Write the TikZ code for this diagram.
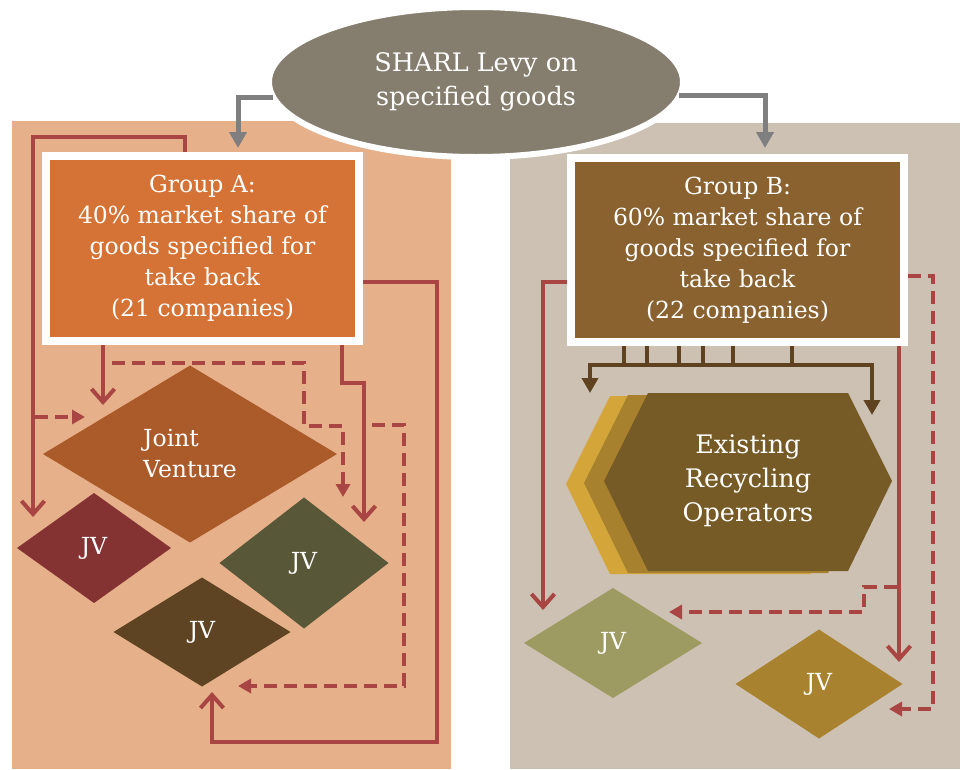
\documentclass[tikz,border=0pt]{standalone}
\usepackage{fontspec}
\setmainfont{DejaVu Serif}
\usetikzlibrary{shapes.geometric,arrows.meta}

\definecolor{peach}{HTML}{E6B08A}
\definecolor{sand}{HTML}{CDC1B3}
\definecolor{levygray}{HTML}{857D6E}
\definecolor{linkgray}{HTML}{7F7F7F}
\definecolor{orangeA}{HTML}{D57336}
\definecolor{brownB}{HTML}{8A6230}
\definecolor{linkred}{HTML}{A94542}
\definecolor{linkbrown}{HTML}{5F4220}
\definecolor{jvrust}{HTML}{AB5A2A}
\definecolor{jvwine}{HTML}{843232}
\definecolor{jvolive}{HTML}{585737}
\definecolor{jvdark}{HTML}{5E4422}
\definecolor{jvsage}{HTML}{9D9A62}
\definecolor{jvgold}{HTML}{A8822E}
\definecolor{hexfront}{HTML}{775B27}
\definecolor{hexmid}{HTML}{A7812E}
\definecolor{hexback}{HTML}{D4A63A}

\tikzset{
  txt/.style={text=white, align=center, font=\fontsize{23.5}{31}\selectfont},
  bigtxt/.style={txt, font=\fontsize{25.5}{34}\selectfont},
  grpbox/.style={txt, rectangle, draw=white, line width=8pt, inner sep=0pt},
  jvdiam/.style={txt, diamond, inner sep=0pt, outer sep=0pt},
  redln/.style={draw=linkred, line width=4pt, -{Straight Barb[length=13pt,width=23pt]}},
  reddash/.style={draw=linkred, line width=4pt, dash pattern=on 13pt off 7pt,
    -{Triangle[length=13pt,width=14pt]}},
  graylink/.style={draw=linkgray, line width=5pt, -{Triangle[length=16pt,width=17pt]}},
  brownlink/.style={draw=linkbrown, line width=4pt}
}

\begin{document}
\begin{tikzpicture}[x=1pt,y=-1pt]
\useasboundingbox (0,0) rectangle (963,769);
% panels
\fill[peach] (12,121) rectangle (451,769);
\fill[sand] (510,123) rectangle (960,769);

% groups
\node[grpbox, fill=orangeA, minimum width=313pt, minimum height=185pt] (grpA) at (202.5,248.5)
  {Group A:\\40\% market share of\\goods specified for\\take back\\(21 companies)};
\node[grpbox, fill=brownB, minimum width=333pt, minimum height=184pt] (grpB) at (737.5,250)
  {Group B:\\60\% market share of\\goods specified for\\take back\\(22 companies)};

% levy
\node[bigtxt, ellipse, fill=levygray, draw=white, line width=6pt, outer sep=0pt,
  minimum width=414pt, minimum height=150pt] (levy) at (476,82) {SHARL Levy on\\specified goods};
\draw[graylink] ([xshift=4pt,yshift=-15pt]levy.west) -| (238,148);
\draw[graylink] ([xshift=-4pt,yshift=-13pt]levy.east) -| (765,148);

% joint ventures, group A
\node[jvdiam, fill=jvrust, minimum width=294pt, minimum height=177pt, align=left] (jv) at (190,454)
  {Joint\\Venture};
\node[jvdiam, fill=jvwine, minimum width=154pt, minimum height=110pt] (jvA1) at (94,548) {JV};
\node[jvdiam, fill=jvolive, minimum width=169pt, minimum height=131pt] (jvA2) at (304,563) {JV};
\node[jvdiam, fill=jvdark, minimum width=177pt, minimum height=109pt] (jvA3) at (202,632) {JV};

% group A links
\draw[redln] ([xshift=-17.5pt]grpA.north) |- (33,137) -- (33,517);
\draw[reddash] (35,417) -- (85,417);
\draw[redln] ([xshift=-99.5pt]grpA.south) -- (103,405);
\draw[reddash] (112,363) -| (304,426) -| (343,497);
\draw[redln] ([xshift=139.5pt]grpA.south) |- (364,383) -- (364,522);
\draw[reddash] (372,425) -| (404,686) -- (238,686);
\draw[redln] ([yshift=-33.5pt]grpA.east) -| (437,742) -| (212,692);

% recycling operators
\foreach \dx/\dy/\col in {-38/3/hexback, -20/2/hexmid, 0/0/hexfront}
  \fill[\col, shift={(\dx,\dy)}] (604,481) -- (648,393) -- (848,393) -- (892,481)
    -- (848,571) -- (648,571) -- cycle;
\node[bigtxt] (ops) at (748,481) {Existing\\Recycling\\Operators};

% joint ventures, group B
\node[jvdiam, fill=jvsage, minimum width=178pt, minimum height=110pt] (jvB1) at (613,643) {JV};
\node[jvdiam, fill=jvgold, minimum width=167pt, minimum height=109pt] (jvB2) at (819,684) {JV};

% group B links
\foreach \x in {624,647,679,703,733,792}
  \draw[brownlink] (grpB.south -| \x,0) -- (\x,365);
\draw[brownlink, {Triangle[length=15pt,width=16pt]}-{Triangle[length=15pt,width=16pt]}]
  (590,393) |- (872,365) -- (872,415);
\draw[redln] ([yshift=-32pt]grpB.west) -| (543,610);
\draw[redln] ([xshift=161.5pt]grpB.south) -- (899,662);
\draw[reddash] (897,587) -| (864,612) -- (669,612);
\draw[reddash] ([yshift=-26pt]grpB.east) -| (933,709) -- (889,709);
\end{tikzpicture}
\end{document}
